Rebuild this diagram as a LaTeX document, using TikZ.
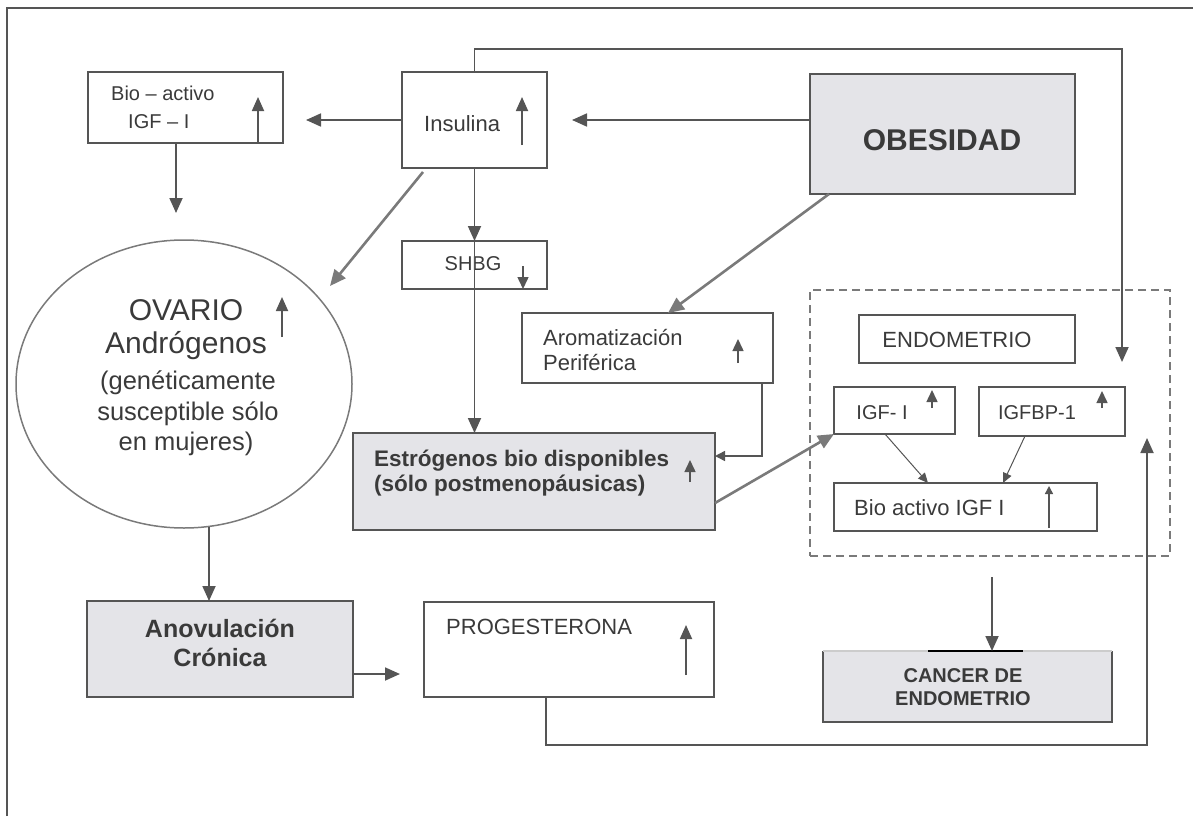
\documentclass[tikz,border=0pt]{standalone}
\usepackage{fontspec}
\setmainfont{Liberation Sans}
\usetikzlibrary{arrows.meta,shapes.geometric}
\definecolor{ln}{HTML}{555555}
\definecolor{lnl}{HTML}{7A7A7A}
\definecolor{tx}{HTML}{3A3A3A}
\definecolor{shd}{HTML}{E4E4E8}
\begin{document}
\begin{tikzpicture}[x=1pt,y=-1pt,
  box/.style={draw=ln,line width=1.3pt,anchor=north west,inner sep=0pt,outer sep=0pt},
  gbox/.style={box,fill=shd},
  con/.style={draw=ln,line width=1.8pt,-{Triangle[length=15pt,width=13pt]}},
  lcon/.style={draw=lnl,line width=2.6pt,-{Triangle[length=16pt,width=14pt]}},
  thin/.style={draw=ln,line width=1pt,-{Triangle[length=10pt,width=9pt]}},
  ind/.style={draw=ln,line width=1.8pt,-{Triangle[length=14pt,width=12pt]}},
  sind/.style={draw=ln,line width=1.5pt,-{Triangle[length=12pt,width=11pt]}},
  t/.style={text=tx,inner sep=0pt,anchor=base},
  tw/.style={t,anchor=base west},
  f20/.style={font=\fontsize{20}{24}\selectfont},
  f22/.style={font=\fontsize{22}{26}\selectfont},
]
\useasboundingbox (0,0) rectangle (1193,816);
% frame
\draw[draw=ln,line width=1.2pt] (7,816) -- (7,8) -- (1193,8);

% boxes
\node[box,minimum width=195pt,minimum height=71pt] (bio) at (88,72) {};
\node[box,minimum width=145pt,minimum height=96pt] (ins) at (402,72) {};
\node[gbox,minimum width=265pt,minimum height=120pt] (ob) at (810,74) {};
\node[box,minimum width=145pt,minimum height=48pt] (shbg) at (402,241) {};
\node[box,minimum width=251pt,minimum height=70pt] (arom) at (522,313) {};
\node[gbox,minimum width=362pt,minimum height=97pt] (est) at (353,433) {};
\node[box,draw=lnl,dashed,dash pattern=on 8pt off 5pt,line width=1.8pt,minimum width=360pt,minimum height=266pt] (dash) at (810,290) {};
\node[box,minimum width=216pt,minimum height=48pt] (endo) at (859,315) {};
\node[box,minimum width=121pt,minimum height=47pt] (igf) at (834,387) {};
\node[box,minimum width=146pt,minimum height=49pt] (igfbp) at (979,387) {};
\node[box,minimum width=263pt,minimum height=48pt] (bioi) at (834,483) {};
\node[box,draw=none,fill=shd,minimum width=289pt,minimum height=71pt] (cancer) at (823,651) {};
\draw[draw=ln,line width=1.3pt] (cancer.north west) -- (cancer.south west) -- (cancer.south east) -- (cancer.north east);
\draw[draw=black!20,line width=1.3pt] (cancer.north west) -- (cancer.north east);
\draw[draw=black,line width=1.5pt] (928,651) -- (1023,651);
\node[gbox,minimum width=266pt,minimum height=96pt] (anov) at (87,601) {};
\node[box,minimum width=290pt,minimum height=95pt] (prog) at (424,602) {};
\node[draw=lnl,line width=1.5pt,ellipse,minimum width=336pt,minimum height=288pt,inner sep=0pt] (ovario) at (184,384) {};

% texts
\node[tw,f20] (tbio1) at (111,100) {Bio – activo};
\node[tw,f20] (tbio2) at (128,128) {IGF – I};
\node[tw,f22] (tins) at (424,131) {Insulina};
\node[t,font=\fontsize{30}{34}\selectfont\bfseries] (tob) at (942,150) {OBESIDAD};
\node[t,f20] (tshbg) at (473,270) {SHBG};
\node[tw,f22] (tarom1) at (543,345) {Aromatización};
\node[tw,f22] (tarom2) at (543,370) {Periférica};
\node[tw,font=\fontsize{22.5}{26}\selectfont\bfseries] (test1) at (374,466) {Estrógenos bio disponibles};
\node[tw,font=\fontsize{22.5}{26}\selectfont\bfseries] (test2) at (374,491) {(sólo postmenopáusicas)};
\node[t,f22] (tendo) at (957,347) {ENDOMETRIO};
\node[t,f20] (tigf) at (882,419) {IGF- I};
\node[t,f20] (tigfbp) at (1037,419) {IGFBP-1};
\node[tw,f22] (tbioi) at (854,515) {Bio activo IGF I};
\node[t,font=\fontsize{20}{24}\selectfont\bfseries] (tc1) at (963,682) {CANCER DE};
\node[t,font=\fontsize{20}{24}\selectfont\bfseries] (tc2) at (963,705) {ENDOMETRIO};
\node[t,font=\fontsize{25}{30}\selectfont\bfseries] (ta1) at (220,637) {Anovulación};
\node[t,font=\fontsize{25}{30}\selectfont\bfseries] (ta2) at (220,666) {Crónica};
\node[tw,f22] (tprog) at (446,634) {PROGESTERONA};
\node[t,font=\fontsize{30}{34}\selectfont] (tov1) at (186,320) {OVARIO};
\node[t,font=\fontsize{30}{34}\selectfont] (tov2) at (186,353) {Andrógenos};
\node[t,font=\fontsize{25.5}{30}\selectfont] (tov3) at (188,389) {(genéticamente};
\node[t,font=\fontsize{25.5}{30}\selectfont] (tov4) at (188,420) {susceptible sólo};
\node[t,font=\fontsize{25.5}{30}\selectfont] (tov5) at (186,450) {en mujeres)};

% indicator arrows inside boxes
\draw[ind] (258,143) -- (258,97);
\draw[ind] (522,145) -- (522,97);
\draw[ind] (282,337) -- (282,297);
\draw[sind] (523,266) -- (523,289);
\draw[sind] (738,363) -- (738,339);
\draw[sind] (690,482) -- (690,460);
\draw[sind] (932,408) -- (932,390);
\draw[sind] (1102,408) -- (1102,391);
\draw[draw=ln,line width=1.5pt,-{Triangle[length=8pt,width=8pt]}] (1049,528) -- (1049,486);
\draw[ind] (686,675) -- (686,625);

% coordinates for free ends
\coordinate (loopTip) at (1122,362);
\coordinate (bioTip) at (306,120);
\coordinate (ovTip) at (330,286);
\coordinate (progTip) at (1147,438);
\coordinate (canStart) at (992,577);
\coordinate (ovS) at (209,527);

% connectors
\draw[con] (ins.north) -- ++(0,-23) -| (loopTip);
\draw[con] (ins.west) -- (bioTip);
\draw[con] (ob.west |- ins.west) -- ++(-238,0);
\draw[lcon] ([xshift=19pt]ob.south west) -- ([xshift=146pt]arom.north west);
\draw[con] ([xshift=88pt]bio.south west) -- ++(0,70);
\draw[lcon] ([xshift=21pt,yshift=-4pt]ins.south west) -- (ovTip);
\draw[con] (ins.south) -- (shbg.north);
\draw[con] (shbg.north) -- (shbg.north |- est.north);
\draw[lcon] ([yshift=-70pt]est.north east) -- (igf.south west);
\draw[draw=ln,line width=1.5pt,-{Triangle[length=10pt,width=10pt]}] ([xshift=-11pt]arom.south east) |- ([yshift=-23pt]est.north east);
\draw[thin] ([xshift=51pt]igf.south west) -- ([xshift=94pt]bioi.north west);
\draw[thin] ([xshift=46pt]igfbp.south west) -- ([xshift=169pt]bioi.north west);
\draw[con] (canStart) -- (canStart |- cancer.north);
\draw[con] (ovS) -- (ovS |- anov.north);
\draw[con] ([yshift=-25pt]anov.east) -- ++(47,0);
\draw[con] ([xshift=122pt]prog.south west) -- ++(0,48) -| (progTip);
\end{tikzpicture}
\end{document}
